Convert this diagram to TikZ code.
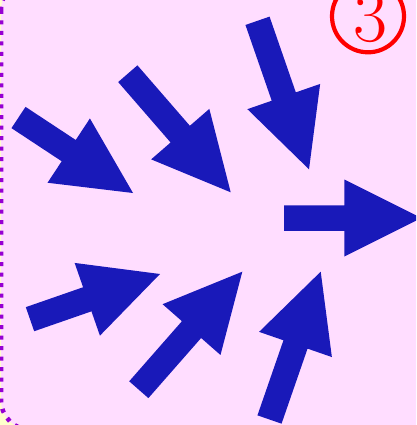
\documentclass[tikz,border=0pt]{standalone}
\usetikzlibrary{calc}
\definecolor{arrowblue}{RGB}{25,25,185}
\definecolor{panelpink}{RGB}{255,221,255}
\definecolor{outeryellow}{RGB}{255,255,204}
\definecolor{borderpurple}{RGB}{150,0,210}
\tikzset{
  arrowfill/.style={fill=arrowblue},
  panel/.style={fill=panelpink, draw=borderpurple, line width=4.5pt,
    dash pattern=on 4pt off 6.5pt, rounded corners=30pt},
  badge/.style={draw=red, line width=4.2pt},
}
\newcommand\blkarrow[2]{%
  \coordinate (hb) at ($(#2)!77pt!(#1)$);
  \fill[arrowfill] ($(#1)!12.75pt!90:(#2)$) -- ($(hb)!12.75pt!90:(#2)$)
    -- ($(hb)!38.5pt!90:(#2)$) -- (#2) -- ($(hb)!38.5pt!-90:(#2)$)
    -- ($(hb)!12.75pt!-90:(#2)$) -- ($(#1)!12.75pt!-90:(#2)$) -- cycle;}
\begin{document}
\begin{tikzpicture}[x=1pt,y=-1pt]
\useasboundingbox (0,0) rectangle (416,425);
\clip (0,0) rectangle (416,425);
\fill[outeryellow] (0,0) rectangle (416,425);
\path[panel] (1,-20) rectangle (450,430);
% badge
\draw[badge] (368,16.3) circle[radius=36];
\node[red, inner sep=0pt, anchor=base, font=\fontsize{74}{74}\selectfont] (num) at (370,41.5) {3};
% arrows
\coordinate (t1) at (18.5,117.5);  \coordinate (p1) at (133,193);
\coordinate (t2) at (127.8,73.7);  \coordinate (p2) at (230.7,192.3);
\coordinate (t3) at (257.5,20.8);  \coordinate (p3) at (309,169.3);
\coordinate (t4) at (284,218);     \coordinate (p4) at (421.3,218);
\coordinate (t5) at (30,319.2);    \coordinate (p5) at (160,274);
\coordinate (t6) at (138.8,389.7); \coordinate (p6) at (242.3,271.7);
\coordinate (t7) at (269.5,419.5); \coordinate (p7) at (320.7,271.7);
\blkarrow{t1}{p1}
\blkarrow{t2}{p2}
\blkarrow{t3}{p3}
\blkarrow{t4}{p4}
\blkarrow{t5}{p5}
\blkarrow{t6}{p6}
\blkarrow{t7}{p7}
\end{tikzpicture}
\end{document}
